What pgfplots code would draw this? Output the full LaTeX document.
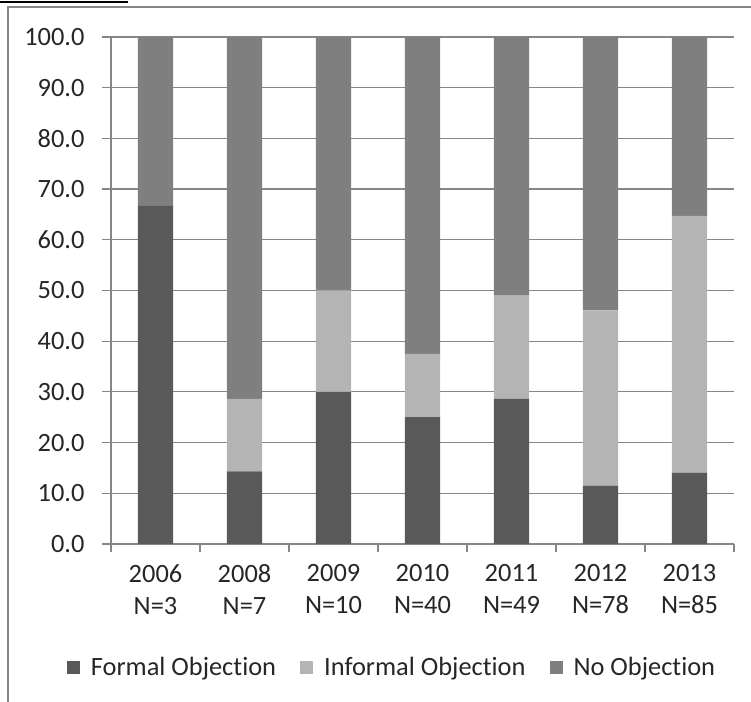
\documentclass[border=0pt]{standalone}
\usepackage{fontspec}
\setmainfont{Carlito}[Ligatures={NoCommon,NoRare,NoContextual}, Contextuals=NoAlternate]
\usepackage{pgfplots}
\pgfplotsset{compat=1.18}
\definecolor{formal}{HTML}{595959}
\definecolor{informal}{HTML}{B4B4B4}
\definecolor{noobj}{HTML}{7F7F7F}
\definecolor{gridc}{HTML}{868686}
\definecolor{txt}{HTML}{262626}
\begin{document}
\begin{tikzpicture}
\path[use as bounding box] (0bp,0bp) rectangle (751bp,702bp);
\draw[black, line width=1.4bp] (0bp,700bp) -- (128bp,700bp);
\draw[gridc, line width=1.4bp] (8bp,0bp) -- (8bp,695bp) -- (751bp,695bp);
\begin{axis}[
  at={(111bp,158bp)}, anchor=south west,
  scale only axis, width=623bp, height=507bp,
  ybar stacked, bar width=35bp,
  xmin=-0.5, xmax=6.5, ymin=0, ymax=100,
  xtick={0,1,2,3,4,5,6},
  xticklabels={{2006\\N=3},{2008\\N=7},{2009\\N=10},{2010\\N=40},{2011\\N=49},{2012\\N=78},{2013\\N=85}},
  minor xtick={-0.5,0.5,1.5,2.5,3.5,4.5,5.5,6.5},
  ytick={0,10,...,100},
  yticklabel style={/pgf/number format/.cd, fixed, fixed zerofill, precision=1, /tikz/.cd, xshift=-14bp},
  /pgf/number format/assume math mode=true,
  axis lines=left,
  every outer x axis line/.append style={-},
  every outer y axis line/.append style={-},
  every inner x axis line/.append style={-},
  every inner y axis line/.append style={-},
  axis line style={gridc, line width=1.2bp, -},
  tick align=outside,
  major tick length=9bp, minor tick length=8bp,
  tick style={gridc, line width=1.2bp},
  every major x tick/.append style={draw=none},
  ymajorgrids, grid style={gridc, line width=1.2bp},
  ticklabel style={font=\fontsize{26.5}{32}\selectfont, text=txt},
  xticklabel style={align=center, yshift=-8bp},
  legend columns=3,
  legend style={draw=none, fill=none, at={(0.451,-0.2426)}, anchor=center,
    font=\fontsize{26.5}{30}\selectfont, text=txt,
    /tikz/every odd column/.append style={column sep=9bp},
    /tikz/every even column/.append style={column sep=22bp}},
  legend image code/.code={\fill[#1] (0bp,-7bp) rectangle (13bp,6bp);},
]
\addplot[fill=formal, draw=none] coordinates {(0,66.7) (1,14.3) (2,30.0) (3,25.0) (4,28.6) (5,11.5) (6,14.1)};
\addplot[fill=informal, draw=none] coordinates {(0,0) (1,14.3) (2,20.0) (3,12.5) (4,20.4) (5,34.6) (6,50.6)};
\addplot[fill=noobj, draw=none] coordinates {(0,33.3) (1,71.4) (2,50.0) (3,62.5) (4,51.0) (5,53.9) (6,35.3)};
\legend{Formal Objection, Informal Objection, No Objection}
\end{axis}
\end{tikzpicture}
\end{document}
